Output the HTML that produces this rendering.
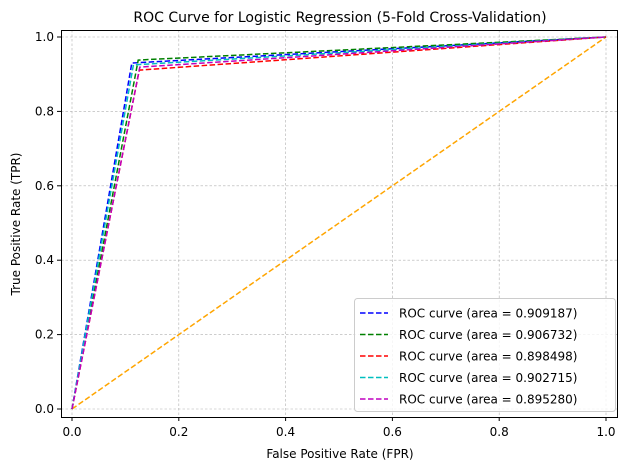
<!DOCTYPE html>
<html><head><meta charset="utf-8"><style>
body{margin:0;background:#fff;font-family:"Liberation Sans","DejaVu Sans",sans-serif}
text{font-family:"DejaVu Sans","Liberation Sans",sans-serif}
</style></head><body>
<svg id="chart" width="628" height="470" viewBox="0 0 628 470" xmlns="http://www.w3.org/2000/svg">
<rect width="628" height="470" fill="#fff"/>
<text x="340" y="22" text-anchor="middle" font-size="14">ROC Curve for Logistic Regression (5-Fold Cross-Validation)</text>
<g id="grid"></g>
<g id="series"></g>
<rect x="61.5" y="30.5" width="556" height="387" fill="none" stroke="#000" stroke-width="1"/>
<g id="ticks"></g>
<text x="340" y="458" text-anchor="middle" font-size="12">False Positive Rate (FPR)</text>
<text transform="translate(20,224) rotate(-90)" text-anchor="middle" font-size="12">True Positive Rate (TPR)</text>
<g id="legend"></g>
</svg>
<script>
const tickValues = [0.0, 0.2, 0.4, 0.6, 0.8, 1.0];
const tickLabels = ["0.0", "0.2", "0.4", "0.6", "0.8", "1.0"];
const aucLabels = ["0.909187", "0.906732", "0.898498", "0.902715", "0.895280"];
const colors = ["#0000ff", "#008000", "#ff0000", "#00bfbf", "#bf00bf"];
const fprCorner = [0.112, 0.124, 0.126, 0.115, 0.127];
const tprCorner = [0.930, 0.938, 0.911, 0.925, 0.919];
const chanceFpr = [0, 1];
const chanceTpr = [0, 1];

const X = v => 72 + v * 534;
const Y = v => 409 - v * 372;
const NS = "http://www.w3.org/2000/svg";
function mk(tag, attrs, parent){const e=document.createElementNS(NS,tag);for(const k in attrs)e.setAttribute(k,attrs[k]);parent.appendChild(e);return e;}
const grid=document.getElementById('grid'), ticks=document.getElementById('ticks'), series=document.getElementById('series'), legend=document.getElementById('legend');

tickValues.forEach((v,i)=>{
  let g=mk('line',{x1:X(v),x2:X(v),y1:30,y2:417,stroke:'#b0b0b0','stroke-width':0.6,'stroke-dasharray':'2.5,2'},grid);
  
  
  g=mk('line',{x1:61,x2:617,y1:Y(v),y2:Y(v),stroke:'#b0b0b0','stroke-width':0.6,'stroke-dasharray':'2.5,2'},grid);
  
  
  mk('line',{x1:X(v),x2:X(v),y1:417,y2:421,stroke:'#000'},ticks);
  let t=mk('text',{x:X(v),y:436,'text-anchor':'middle','font-size':12},ticks);t.textContent=tickLabels[i];
  
  
  mk('line',{x1:57,x2:61,y1:Y(v),y2:Y(v),stroke:'#000'},ticks);
  t=mk('text',{x:54,y:Y(v)+4,'text-anchor':'end','font-size':12},ticks);t.textContent=tickLabels[i];
  
  
});

let ch=mk('line',{x1:X(chanceFpr[0]),y1:Y(chanceTpr[0]),x2:X(chanceFpr[1]),y2:Y(chanceTpr[1]),stroke:'#ffa500','stroke-width':1.5,'stroke-dasharray':'5.5,2.5'},series);



fprCorner.forEach((f,i)=>{
  const p=mk('polyline',{points:`${X(0)},${Y(0)} ${X(f)},${Y(tprCorner[i])} ${X(1)},${Y(1)}`,fill:'none',stroke:colors[i],'stroke-width':1.5,'stroke-dasharray':'5.5,2.5'},series);
  
  
});

const lb=mk('rect',{x:354.5,y:298.5,width:261,height:113,rx:3,fill:'#fff','fill-opacity':0.8,stroke:'#ccc'},legend);


aucLabels.forEach((a,i)=>{
  const y=313+i*21.5;
  const g=mk('g',{},legend);
  
  
  mk('line',{x1:360,x2:388,y1:y,y2:y,stroke:colors[i],'stroke-width':1.5,'stroke-dasharray':'5.5,2.5'},g);
  const t=mk('text',{x:399,y:y+4.5,'font-size':12},g);t.textContent=`ROC curve (area = ${a})`;
});
</script>
</body></html>
